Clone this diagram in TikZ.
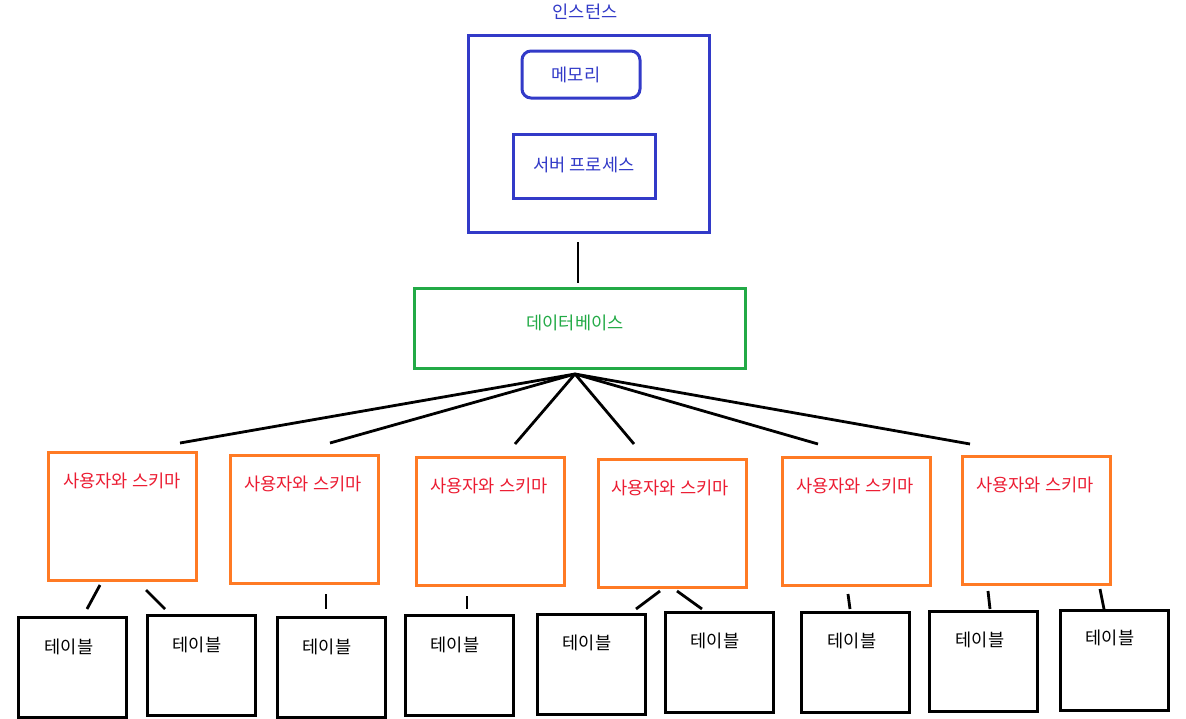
\documentclass[tikz,border=0pt]{standalone}
\usepackage{fontspec}
\setmainfont{Noto Sans CJK KR}
\definecolor{iblue}{RGB}{50,58,200}
\definecolor{dbgreen}{RGB}{34,170,70}
\definecolor{sorange}{RGB}{255,122,36}
\definecolor{sred}{RGB}{236,28,50}
\tikzset{
  bluebox/.style={draw=iblue, line width=3pt, inner sep=0pt},
  greenbox/.style={draw=dbgreen, line width=3pt, inner sep=0pt},
  schemabox/.style={draw=sorange, line width=3pt, inner sep=0pt, minimum width=148pt, minimum height=128pt},
  tablebox/.style={draw=black, line width=3pt, inner sep=0pt, minimum width=108pt, minimum height=100pt},
  bluetxt/.style={text=iblue, font=\fontsize{17.6}{20}\selectfont, inner sep=0pt},
  greentxt/.style={text=dbgreen, font=\fontsize{17.6}{20}\selectfont, inner sep=0pt},
  redtxt/.style={text=sred, font=\fontsize{17.6}{20}\selectfont, inner sep=0pt},
  blacktxt/.style={text=black, font=\fontsize{17.6}{20}\selectfont, inner sep=0pt},
  conn/.style={draw=black, line width=2.8pt},
}
\begin{document}
\begin{tikzpicture}[x=1pt,y=-1pt]
\useasboundingbox[fill=white] (0,0) rectangle (1186,718);
% instance
\node[bluetxt] (insttitle) at (585,12) {인스턴스};
\node[bluebox, minimum width=241pt, minimum height=197pt] (inst) at (588.5,133.5) {};
\node[bluebox, rounded corners=9pt, minimum width=118pt, minimum height=47pt] (mem) at (581,74.5) {};
\node[bluetxt] (memt) at (576,75) {메모리};
\node[bluebox, minimum width=142pt, minimum height=64pt] (srv) at (584,166) {};
\node[bluetxt] (srvt) at (584,165) {서버 프로세스};
% database
\coordinate (instlow) at (578,242);
\coordinate (dbtop) at (578,283);
\draw[conn] (instlow) -- (dbtop);
\node[greenbox, minimum width=331pt, minimum height=80pt] (db) at (579.5,328) {};
\node[greentxt] (dbt) at (575,323) {데이터베이스};
% schemas
\node[schemabox] (s1) at (122,516.5) {};
\node[redtxt] (s1t) at (122,481) {사용자와 스키마};
\node[schemabox] (s2) at (304,519) {};
\node[redtxt] (s2t) at (303,484) {사용자와 스키마};
\node[schemabox] (s3) at (490,521.5) {};
\node[redtxt] (s3t) at (489,486) {사용자와 스키마};
\node[schemabox] (s4) at (672,523) {};
\node[redtxt] (s4t) at (670,488) {사용자와 스키마};
\node[schemabox] (s5) at (856,521) {};
\node[redtxt] (s5t) at (855,486) {사용자와 스키마};
\node[schemabox] (s6) at (1036,520.5) {};
\node[redtxt] (s6t) at (1035,485) {사용자와 스키마};
% fan
\coordinate (hub) at (575,374);
\coordinate (f1) at (180,443);
\coordinate (f2) at (330,443);
\coordinate (f3) at (515,444);
\coordinate (f4) at (634,444);
\coordinate (f5) at (818,444);
\coordinate (f6) at (970,444);
\foreach \f in {f1,f2,f3,f4,f5,f6} \draw[conn] (hub) -- (\f);
% tables
\node[tablebox] (t1) at (72.5,667.5) {};
\node[blacktxt] (t1t) at (69,647) {테이블};
\node[tablebox] (t2) at (201,665.5) {};
\node[blacktxt] (t2t) at (197,645) {테이블};
\node[tablebox] (t3) at (331.5,667.5) {};
\node[blacktxt] (t3t) at (327,647) {테이블};
\node[tablebox] (t4) at (459.5,665.5) {};
\node[blacktxt] (t4t) at (455,645) {테이블};
\node[tablebox] (t5) at (591.5,664) {};
\node[blacktxt] (t5t) at (587,643) {테이블};
\node[tablebox] (t6) at (719,662.5) {};
\node[blacktxt] (t6t) at (715,641) {테이블};
\node[tablebox] (t7) at (855.5,662.5) {};
\node[blacktxt] (t7t) at (852,641) {테이블};
\node[tablebox] (t8) at (983.5,661.5) {};
\node[blacktxt] (t8t) at (980,640) {테이블};
\node[tablebox] (t9) at (1114,660) {};
\node[blacktxt] (t9t) at (1110,638) {테이블};
% short connectors
\coordinate (a1) at (100,585); \coordinate (b1) at (87,609);
\coordinate (a2) at (146,590); \coordinate (b2) at (165,609);
\coordinate (a3) at (326,594); \coordinate (b3) at (326,609);
\coordinate (a4) at (467,596); \coordinate (b4) at (467,609);
\coordinate (a5) at (660,591); \coordinate (b5) at (636,609);
\coordinate (a6) at (677,591); \coordinate (b6) at (702,609);
\coordinate (a7) at (848,594); \coordinate (b7) at (850,609);
\coordinate (a8) at (988,591); \coordinate (b8) at (990,609);
\coordinate (a9) at (1100,589); \coordinate (b9) at (1104,609);
\foreach \i in {1,...,9} \draw[conn] (a\i) -- (b\i);
\end{tikzpicture}
\end{document}
